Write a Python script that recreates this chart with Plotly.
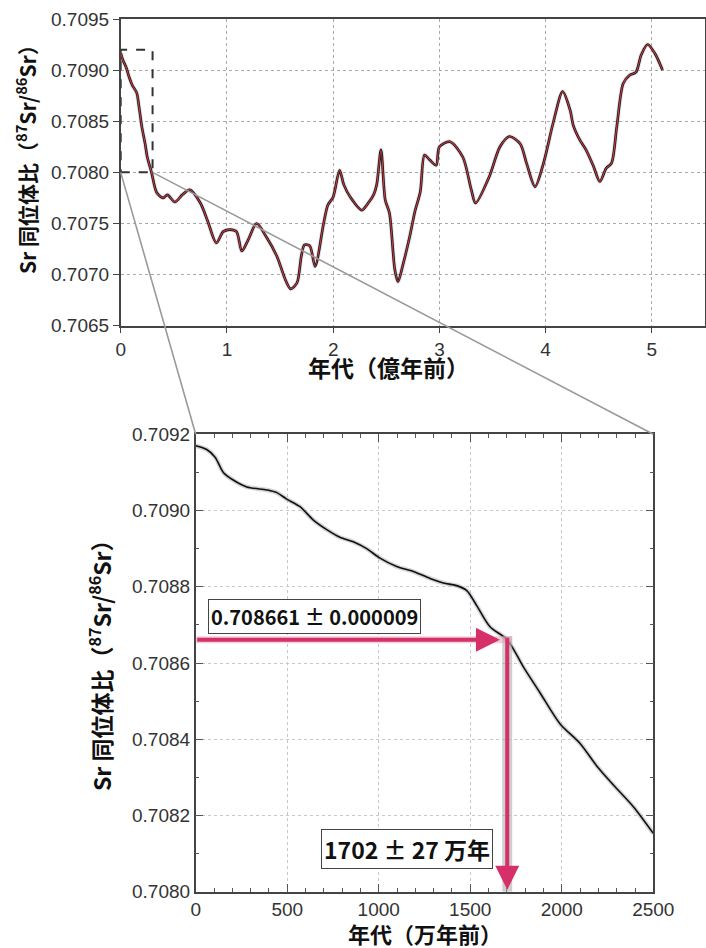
import plotly.graph_objects as go

# ---------------- data ----------------
# Top panel: age (100 Myr units, 億年前) vs 87Sr/86Sr
age_top = [0, 0.02, 0.05, 0.08, 0.11, 0.15, 0.17, 0.20, 0.23, 0.25, 0.29, 0.34, 0.40, 0.44,
           0.51, 0.58, 0.65, 0.75, 0.82, 0.90, 0.965, 1.03, 1.09, 1.14, 1.20, 1.28, 1.37,
           1.47, 1.55, 1.60, 1.66, 1.70, 1.73, 1.78, 1.83, 1.91, 1.95, 2.0, 2.06, 2.10,
           2.16, 2.27, 2.33, 2.38, 2.41, 2.45, 2.49, 2.53, 2.58, 2.61, 2.66, 2.72, 2.77,
           2.82, 2.86, 2.91, 2.97, 3.0, 3.10, 3.22, 3.30, 3.34, 3.47, 3.57, 3.66, 3.76,
           3.82, 3.90, 3.98, 4.07, 4.16, 4.23, 4.26, 4.32, 4.38, 4.45, 4.51, 4.57, 4.62,
           4.67, 4.73, 4.79, 4.85, 4.90, 4.96, 5.03, 5.10]
sr_top = [0.70917, 0.70910, 0.70903, 0.70893, 0.70885, 0.70878, 0.70866, 0.70844, 0.70828,
          0.70815, 0.70800, 0.70780, 0.70775, 0.70778, 0.70771, 0.70778, 0.70783, 0.70770,
          0.70752, 0.70731, 0.70742, 0.70744, 0.70742, 0.70723, 0.70734, 0.70750, 0.70737,
          0.70718, 0.70695, 0.70686, 0.70692, 0.70718, 0.70729, 0.70728, 0.70708, 0.70750,
          0.70768, 0.70776, 0.70802, 0.70788, 0.70776, 0.70763, 0.70770, 0.70778, 0.70788,
          0.70822, 0.70773, 0.70760, 0.70705, 0.70693, 0.70711, 0.70737, 0.70762, 0.70781,
          0.70817, 0.70812, 0.70807, 0.70825, 0.70830, 0.70815, 0.70783, 0.70770, 0.70796,
          0.70825, 0.70835, 0.70828, 0.70809, 0.70786, 0.70809, 0.70848, 0.70879, 0.70861,
          0.70846, 0.70832, 0.70822, 0.70806, 0.70791, 0.70804, 0.70809, 0.70845, 0.70887,
          0.70895, 0.70898, 0.70915, 0.70925, 0.70916, 0.70900]

# Bottom panel: age (10 kyr units, 万年前) vs 87Sr/86Sr
age_bot = [0, 60, 106, 151, 205, 279, 388, 443, 497, 570, 643, 716, 788, 861, 934, 1007,
           1098, 1189, 1280, 1353, 1426, 1481, 1536, 1608, 1702, 1790, 1881, 1991, 2100,
           2191, 2282, 2391, 2500]
sr_bot = [0.70917, 0.70916, 0.70914, 0.70910, 0.70908, 0.709062, 0.709054, 0.709047,
          0.70903, 0.70901, 0.708975, 0.70895, 0.70893, 0.708918, 0.70890, 0.708875,
          0.708853, 0.70884, 0.708822, 0.70881, 0.708803, 0.70879, 0.70875, 0.708695,
          0.708661, 0.70859, 0.708522, 0.70844, 0.708389, 0.70833, 0.70828, 0.708223,
          0.708153]

# Result
res_age, res_age_err = 1702, 27
res_sr, res_sr_err = 0.708661, 0.000009
zoom_x = [0, 0.3]
zoom_y = [0.7080, 0.7092]

label_sr = "0.708661 ± 0.000009"
label_age = "1702 ± 27 万年"
ytitle = "Sr 同位体比（<sup>87</sup>Sr/<sup>86</sup>Sr）"
xtitle_top = "年代（億年前）"
xtitle_bot = "年代（万年前）"

# ---------------- layout geometry ----------------
W, H = 706, 948
TX = [120.7 / W, 705 / W]
TY = [1 - 325.7 / H, 1 - 19 / H]
BX = [195.7 / W, 653.3 / W]
BY = [1 - 891.7 / H, 1 - 434.3 / H]
TOP_XR = [0, 5.5]
TOP_YR = [0.7065, 0.7095]
BOT_XR = [0, 2500]
BOT_YR = [0.7080, 0.7092]

PINK = "#d6306b"
TICKFONT = dict(family="Liberation Sans, Arial", size=19, color="#333")
CJK = "Noto Sans CJK JP"

fig = go.Figure()

# top panel traces
fig.add_trace(go.Scatter(x=age_top, y=sr_top, mode="lines", line=dict(color="rgba(150,165,195,0.3)", width=4.5, shape="spline", smoothing=0.8),
                         xaxis="x", yaxis="y", hoverinfo="skip"))
fig.add_trace(go.Scatter(x=age_top, y=sr_top, mode="lines", line=dict(color="#111", width=2.6, shape="spline", smoothing=0.8),
                         xaxis="x", yaxis="y"))
fig.add_trace(go.Scatter(x=age_top, y=sr_top, mode="lines", line=dict(color="#c23a3a", width=1.2, shape="spline", smoothing=0.8),
                         xaxis="x", yaxis="y"))

# bottom panel traces
fig.add_trace(go.Scatter(x=age_bot, y=sr_bot, mode="lines", line=dict(color="rgba(170,170,180,0.5)", width=4.5, shape="spline", smoothing=0.8),
                         xaxis="x2", yaxis="y2", hoverinfo="skip"))
fig.add_trace(go.Scatter(x=age_bot, y=sr_bot, mode="lines", line=dict(color="#111", width=1.6, shape="spline", smoothing=0.8),
                         xaxis="x2", yaxis="y2"))

axis_common = dict(showline=True, mirror=True, linecolor="#444", linewidth=1.5, zeroline=False,
                   tickfont=TICKFONT, automargin=False)

fig.update_layout(
    width=W, height=H, autosize=False,
    margin=dict(l=0, r=0, t=0, b=0),
    paper_bgcolor="white", plot_bgcolor="white",
    showlegend=False,
    xaxis=dict(domain=TX, range=TOP_XR, dtick=1, ticks="outside", ticklen=6, tickcolor="#444",
               showgrid=True, gridcolor="#aaa", griddash="dot", gridwidth=1, anchor="y", **axis_common),
    yaxis=dict(domain=TY, range=TOP_YR, dtick=0.0005, tickformat=".4f", ticks="outside", ticklen=6,
               tickcolor="#444", showgrid=True, gridcolor="#aaa", griddash="dot", gridwidth=1, anchor="x",
               **axis_common),
    xaxis2=dict(domain=BX, range=BOT_XR, dtick=500, ticks="inside", ticklen=8, tickcolor="#555",
                showgrid=True, gridcolor="#c8c8c8", griddash="dot", gridwidth=1, anchor="y2",
                minor=dict(dtick=100, ticks="inside", ticklen=4, tickcolor="#555", showgrid=False),
                **{**axis_common, "mirror": "allticks"}),
    yaxis2=dict(domain=BY, range=BOT_YR, dtick=0.0002, tickformat=".4f", ticks="inside", ticklen=8,
                tickcolor="#555", showgrid=True, gridcolor="#c8c8c8", griddash="dot", gridwidth=1,
                anchor="x2", minor=dict(dtick=0.0001, ticks="inside", ticklen=4, tickcolor="#555", showgrid=False),
                **{**axis_common, "mirror": "allticks"}),
)

# helper: data -> paper for the top panel
def top_px(xv):
    return TX[0] + (xv - TOP_XR[0]) / (TOP_XR[1] - TOP_XR[0]) * (TX[1] - TX[0])

def top_py(yv):
    return TY[0] + (yv - TOP_YR[0]) / (TOP_YR[1] - TOP_YR[0]) * (TY[1] - TY[0])

shapes = []
# dashed zoom box on top panel
shapes.append(dict(type="rect", xref="x", yref="y", x0=zoom_x[0], x1=zoom_x[1], y0=zoom_y[0], y1=zoom_y[1],
                   line=dict(color="#333", width=2, dash="dash"), layer="above"))
# connector lines
shapes.append(dict(type="line", xref="paper", yref="paper", x0=top_px(zoom_x[0]), y0=top_py(zoom_y[0]),
                   x1=BX[0], y1=BY[1], line=dict(color="#9a9a9a", width=1.6), layer="above"))
shapes.append(dict(type="line", xref="paper", yref="paper", x0=top_px(zoom_x[1]), y0=top_py(zoom_y[0]),
                   x1=BX[1], y1=BY[1], line=dict(color="#9a9a9a", width=1.6), layer="above"))
# uncertainty bands in bottom panel
shapes.append(dict(type="rect", xref="x2", yref="y2", x0=res_age - res_age_err, x1=res_age + res_age_err,
                   y0=BOT_YR[0], y1=res_sr + res_sr_err, fillcolor="rgba(175,175,175,0.6)", line=dict(width=0),
                   layer="above"))
shapes.append(dict(type="rect", xref="x2", yref="y2", x0=BOT_XR[0], x1=res_age + res_age_err,
                   y0=res_sr - res_sr_err, y1=res_sr + res_sr_err, fillcolor="rgba(220,150,170,0.45)",
                   line=dict(width=0), layer="above"))
fig.update_layout(shapes=shapes)

ann = []
# arrows
ann.append(dict(xref="x2", yref="y2", axref="x2", ayref="y2", x=res_age - 40, y=res_sr, ax=BOT_XR[0], ay=res_sr,
                text="", showarrow=True, arrowhead=2, arrowsize=1.2, arrowwidth=4, arrowcolor=PINK, standoff=0))
ann.append(dict(xref="x2", yref="y2", axref="x2", ayref="y2", x=res_age, y=BOT_YR[0] + 0.000005, ax=res_age,
                ay=res_sr + res_sr_err, text="", showarrow=True, arrowhead=2, arrowsize=1.2, arrowwidth=4,
                arrowcolor=PINK, standoff=0))
# result boxes
ann.append(dict(xref="x2", yref="y2", x=650, y=0.708721, text=label_sr, showarrow=False,
                xanchor="center", yanchor="middle",
                font=dict(family=CJK, size=20, color="#111", weight="bold"), bgcolor="white",
                bordercolor="#444", borderwidth=1, borderpad=2))
ann.append(dict(xref="x2", yref="y2", x=1157, y=0.708113, text=label_age, showarrow=False,
                xanchor="center", yanchor="middle",
                font=dict(family=CJK, size=23, color="#111", weight="bold"), bgcolor="white",
                bordercolor="#444", borderwidth=1, borderpad=2))
# axis titles
title_font = lambda s: dict(family=CJK, size=s, color="#111", weight="bold")
ann.append(dict(xref="paper", yref="paper", x=26 / W, y=1 - 154 / H, text=ytitle, textangle=-90,
                xanchor="center", yanchor="middle", showarrow=False, font=title_font(21)))
ann.append(dict(xref="paper", yref="paper", x=100 / W, y=1 - 660 / H, text=ytitle, textangle=-90,
                xanchor="center", yanchor="middle", showarrow=False, font=title_font(23)))
ann.append(dict(xref="paper", yref="paper", x=388 / W, y=1 - 366.5 / H, text=xtitle_top,
                xanchor="center", yanchor="middle", showarrow=False, font=title_font(23)))
ann.append(dict(xref="paper", yref="paper", x=425 / W, y=1 - 933 / H, text=xtitle_bot,
                xanchor="center", yanchor="middle", showarrow=False, font=title_font(22)))
fig.update_layout(annotations=ann)

fig.write_html("out.html", config={"displayModeBar": False},
               post_script="document.body.style.margin='0';")
